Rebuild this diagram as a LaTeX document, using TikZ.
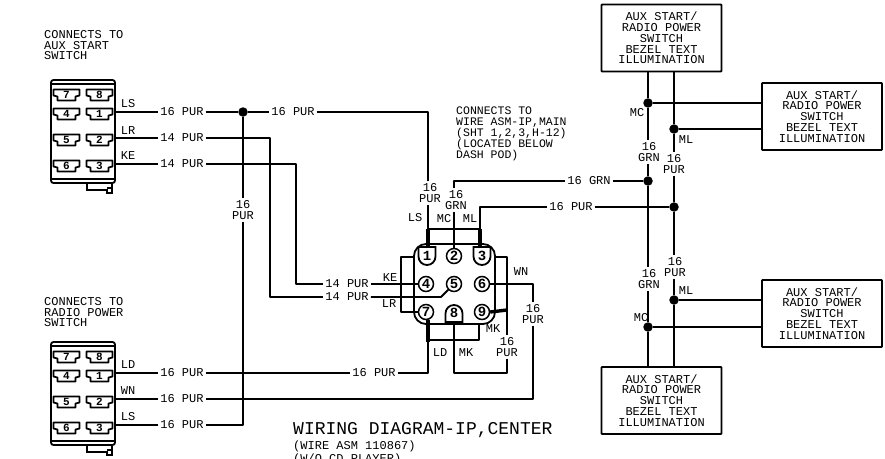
\documentclass[tikz,border=0pt]{standalone}
\usepackage{fontspec}
\setmainfont{Liberation Mono}
\tikzset{
 wire/.style={line width=1.8pt,line join=round},
 heavy/.style={line width=3.4pt},
 lab/.style={inner sep=2pt,font=\fontsize{12}{10.8}\selectfont,align=center},
 plain/.style={inner sep=0pt,font=\fontsize{12}{10.8}\selectfont,align=left},
 bezel/.style={draw,line width=1.9pt,rounded corners=0.8pt,align=center,font=\fontsize{12}{10.8}\selectfont,minimum width=120pt,minimum height=67pt,inner sep=0pt},
 dotnode/.style={circle,fill=black,inner sep=0pt,minimum size=9.5pt},
 pin/.style={circle,draw,line width=1.5pt,inner sep=0pt,minimum size=15pt,font=\bfseries\fontsize{14}{14}\selectfont},
 shapepin/.style={inner sep=0pt,minimum size=15pt,font=\bfseries\fontsize{14}{14}\selectfont},
 cell/.style={line width=1.7pt,line join=round},
 cellnum/.style={inner sep=0pt,font=\bfseries\fontsize{11}{11}\selectfont},
}
\newcommand{\cellshape}[3]{%
 \draw[cell] (#1-13,#2-5.5) -- (#1+13,#2-5.5) -- (#1+13,#2+0.5) -- (#1+9,#2+1.5) -- (#1+9,#2+5.5) -- (#1-9,#2+5.5) -- (#1-9,#2+1.5) -- (#1-13,#2+0.5) -- cycle;
 \node[cellnum] at (#1,#2) {#3};}
\newcommand{\plug}[1]{%
 \begin{scope}[yshift=#1]
 \draw[line width=1.8pt,rounded corners=2.5pt] (51,183) -- (51,80) -- (115,80) -- (115,183) -- cycle;
 \draw[line width=1.8pt] (51,84) -- (115,84);
 \draw[line width=1.6pt] (51,179) -- (115,179);
 \draw[line width=1.6pt] (87,183) -- (87,190) -- (107,190) -- (107,193) -- (112,193) -- (112,183);
 \draw[line width=1.2pt] (107,188) -- (112,188);
 \cellshape{66.5}{95}{7}\cellshape{99.5}{95}{8}
 \cellshape{66.5}{114}{4}\cellshape{99.5}{114}{1}
 \cellshape{66.5}{140}{5}\cellshape{99.5}{140}{2}
 \cellshape{66.5}{166}{6}\cellshape{99.5}{166}{3}
 \end{scope}}
\begin{document}
\begin{tikzpicture}[x=1pt,y=-1pt]
\useasboundingbox (0,0) rectangle (885,458);
\clip (0,0) rectangle (885,458);
% plugs
\plug{0pt}
\plug{-262pt}
\coordinate (aLS) at (115,112); \coordinate (aLR) at (115,138); \coordinate (aKE) at (115,164);
\coordinate (bLD) at (115,373); \coordinate (bWN) at (115,399); \coordinate (bLS) at (115,425);
% captions
\node[plain,anchor=north west] (capA) at (44,30) {CONNECTS TO\\AUX START\\SWITCH};
\node[plain,anchor=north west] (capB) at (44,297) {CONNECTS TO\\RADIO POWER\\SWITCH};
\node[plain,anchor=north west,font=\fontsize{11.5}{10.8}\selectfont] (capC) at (456,107) {CONNECTS TO\\WIRE ASM-IP,MAIN\\(SHT 1,2,3,H-12)\\(LOCATED BELOW\\DASH POD)};
\node[plain,anchor=west,font=\fontsize{18}{18}\selectfont] (title) at (293,430) {WIRING DIAGRAM-IP,CENTER};
\node[plain,anchor=north west] (sub) at (293,441) {(WIRE ASM 110867)\\(W/O CD PLAYER)};
% wire letter labels
\node[lab] (l1) at (128,104) {LS}; \node[lab] (l2) at (128,131) {LR}; \node[lab] (l3) at (128,156) {KE};
\node[lab] (l4) at (128,365) {LD}; \node[lab] (l5) at (128,391) {WN}; \node[lab] (l6) at (128,417) {LS};
\node[lab] (l7) at (415,218) {LS}; \node[lab] (l8) at (444,219) {MC}; \node[lab] (l9) at (470,219) {ML};
\node[lab] (l10) at (390,278) {KE}; \node[lab] (l11) at (389,304) {LR}; \node[lab] (l12) at (521,272) {WN};
\node[lab] (l13) at (493,329) {MK}; \node[lab] (l14) at (440,353) {LD}; \node[lab] (l15) at (466,353) {MK};
\node[lab] (l16) at (637,113) {MC}; \node[lab] (l17) at (686,140) {ML}; \node[lab] (l18) at (686,291) {ML}; \node[lab] (l19) at (641,318) {MC};
% gauge labels
\node[lab] (tLS) at (182,112) {16 PUR}; \node[lab] (tLR) at (182,138) {14 PUR}; \node[lab] (tKE) at (182,164) {14 PUR};
\node[lab] (tLD) at (182,373) {16 PUR}; \node[lab] (tWN) at (182,399) {16 PUR}; \node[lab] (tLS2) at (182,425) {16 PUR};
\node[lab] (tMid) at (293,112) {16 PUR};
\node[lab] (tV) at (243,210) {16\\PUR};
\node[lab] (tKE2) at (347,284) {14 PUR}; \node[lab] (tLR2) at (347,297) {14 PUR};
\node[lab] (tLD2) at (374,373) {16 PUR};
\node[lab] (tP1) at (430,193) {16\\PUR}; \node[lab] (tG2) at (456,200) {16\\GRN};
\node[lab] (tGrn) at (589,181) {16 GRN}; \node[lab] (tPur) at (571,207) {16 PUR};
\node[lab] (tW) at (533,314) {16\\PUR}; \node[lab] (tM) at (507,347) {16\\PUR};
\node[lab] (tG3) at (649,152) {16\\GRN}; \node[lab] (tP3) at (674,164) {16\\PUR};
\node[lab] (tG4) at (649,279) {16\\GRN}; \node[lab] (tP4) at (675,267) {16\\PUR};
% boxes
\node[bezel] (bT) at (661.5,38) {AUX START/\\RADIO POWER\\SWITCH\\BEZEL TEXT\\ILLUMINATION};
\node[bezel] (bR) at (822,116.5) {AUX START/\\RADIO POWER\\SWITCH\\BEZEL TEXT\\ILLUMINATION};
\node[bezel] (bQ) at (822,313.5) {AUX START/\\RADIO POWER\\SWITCH\\BEZEL TEXT\\ILLUMINATION};
\node[bezel] (bB) at (661.5,400.5) {AUX START/\\RADIO POWER\\SWITCH\\BEZEL TEXT\\ILLUMINATION};
% dots
\node[dotnode] (d0) at (243,112) {};
\node[dotnode] (d1) at (648,103) {}; \node[dotnode] (d2) at (674,129) {};
\node[dotnode] (d3) at (648,181) {}; \node[dotnode] (d4) at (674,207) {};
\node[dotnode] (d5) at (674,300) {}; \node[dotnode] (d6) at (648,327) {};
% centre connector
\node[draw,line width=1.8pt,rounded corners=12pt,minimum width=81pt,minimum height=80pt,inner sep=0pt] (hous) at (454.5,284) {};
\node[shapepin] (p1) at (427,256) {1};
\node[pin] (p2) at (454,256) {2};
\node[shapepin] (p3) at (482,256) {3};
\node[pin] (p4) at (426,284) {4};
\node[pin] (p5) at (454,284) {5};
\node[pin] (p6) at (482,284) {6};
\node[pin] (p7) at (426,312) {7};
\node[shapepin] (p8) at (454,313) {8};
\node[pin] (p9) at (482,312) {9};
\draw[line width=1.8pt] (418.5,247) -- (435.5,247) -- (435.5,256.5) .. controls (435.5,261.2) and (431.7,265) .. (427,265) .. controls (422.3,265) and (418.5,261.2) .. (418.5,256.5) -- cycle;
\draw[line width=1.8pt] (473.5,247) -- (490.5,247) -- (490.5,256.5) .. controls (490.5,261.2) and (486.7,265) .. (482,265) .. controls (477.3,265) and (473.5,261.2) .. (473.5,256.5) -- cycle;
\draw[line width=1.8pt] (445.5,322) -- (462.5,322) -- (462.5,313.5) .. controls (462.5,308.8) and (458.7,305) .. (454,305) .. controls (449.3,305) and (445.5,308.8) .. (445.5,313.5) -- cycle;
% helper corners
\coordinate (n1) at (428,112);
\coordinate (nM) at (454,181);
\coordinate (nL) at (480,207);
\coordinate (nW) at (533,284);
\coordinate (nB) at (507,310);
\coordinate (nD) at (428,373);
\coordinate (nE) at (454,373);
\coordinate (xL) at (648,72);
\coordinate (xP) at (674,72);
\coordinate (xL2) at (648,367);
\coordinate (xP2) at (674,367);
% left wiring
\draw[wire] (aLS) -- (tLS); \draw[wire] (aLR) -- (tLR); \draw[wire] (aKE) -- (tKE);
\draw[wire] (bLD) -- (tLD); \draw[wire] (bWN) -- (tWN); \draw[wire] (bLS) -- (tLS2);
\draw[wire] (tLS) -- (d0) -- (tMid);
\draw[wire] (tMid) -- (n1) -- (n1 |- tP1.north);
\draw[wire] (tP1.south -| n1) -- (n1 |- p1.north);
\draw[wire] (tLR.east) -- (270,138) -- (270,297) -- (tLR2.west);
\draw[wire] (tKE.east) -- (296,164) -- (296,284) -- (tKE2.west);
\draw[wire] (d0) -- (tV);
\draw[wire] (tV.south) -- (243,425) -- (tLS2.east);
\draw[wire] (tKE2.east) -- (p4.west);
\draw[wire] (tLR2.east) -- (441,297) -- (p5.south west);
\draw[wire] (tLD.east) -- (tLD2.west);
\draw[wire] (tLD2.east) -- (nD) -- (nD |- p7.south);
\draw[wire] (tWN.east) -- (533,399) -- (tW.south);
\draw[wire] (tW.north) -- (nW) -- (p6.east);
% top of connector
\draw[wire] (p2.north) -- (tG2.south -| p2.north);
\draw[wire] (tG2.north -| nM) -- (nM) -- (tGrn.west);
\draw[wire] (tGrn.east) -- (d3);
\draw[wire] (p3.north -| nL) -- (nL) -- (tPur.west);
\draw[wire] (tPur.east) -- (d4);
\draw[wire] (428,229) -- (480,229);
\draw[heavy] (n1 |- p1.north) -- (428,229);
\draw[heavy] (nL |- p3.north) -- (480,229);
% side brackets
\draw[wire] (414,257) -- (401,257) -- (401,312) -- (p7.west);
\draw[wire] (494,257) -- (507,257) -- (nB) -- (p9.east);
\draw[heavy] (p9.east) -- (nB);
\draw[wire] (nB) -- (tM.north);
\draw[wire] (tM.south) -- (507,373) -- (nE) -- (p8.south);
% bottom bracket
\draw[wire] (428,340) -- (479,340) -- (479,325);
\draw[heavy] (nD |- p7.south) -- (428,342);
% right trunks
\draw[wire] (xL) -- (d1) -- (tG3.north -| xL);
\draw[wire] (tG3.south -| xL) -- (d3) -- (tG4.north -| xL);
\draw[wire] (tG4.south -| xL) -- (d6) -- (xL2);
\draw[wire] (xP) -- (d2) -- (tP3.north -| xP);
\draw[wire] (tP3.south -| xP) -- (d4) -- (tP4.north -| xP);
\draw[wire] (tP4.south -| xP) -- (d5) -- (xP2);
\draw[wire] (d1) -- (bR.west |- d1);
\draw[wire] (d2) -- (bR.west |- d2);
\draw[wire] (d5) -- (bQ.west |- d5);
\draw[wire] (d6) -- (bQ.west |- d6);
\end{tikzpicture}
\end{document}
